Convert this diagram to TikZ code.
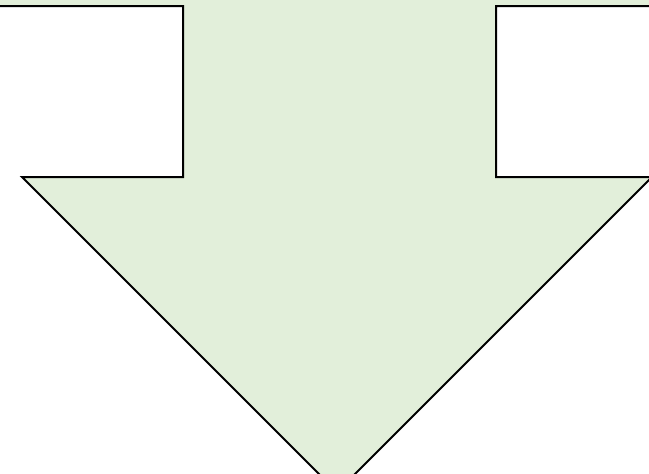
\documentclass[tikz,border=0pt]{standalone}
\usepackage{tikz}
\definecolor{arrowgreen}{RGB}{226,239,218}

\begin{document}
\begin{tikzpicture}[x=1pt, y=-1pt, outline/.style={black, line width=2pt, line join=miter}]
\useasboundingbox (0, 0) rectangle (649, 474);
\clip (0, 0) rectangle (649, 474);
\fill[arrowgreen] (-5, -5) rectangle (655, 6);
\fill[arrowgreen] (183, 0) -- (183, 177) -- (22, 177) -- (337, 492)
 -- (652, 177) -- (496, 177) -- (496, 0) -- cycle;
\draw[outline] (-5, 6) -- (183, 6) -- (183, 177) -- (22, 177) -- (337, 492)
 -- (652, 177) -- (496, 177) -- (496, 6) -- (655, 6);
\end{tikzpicture}
\end{document}
